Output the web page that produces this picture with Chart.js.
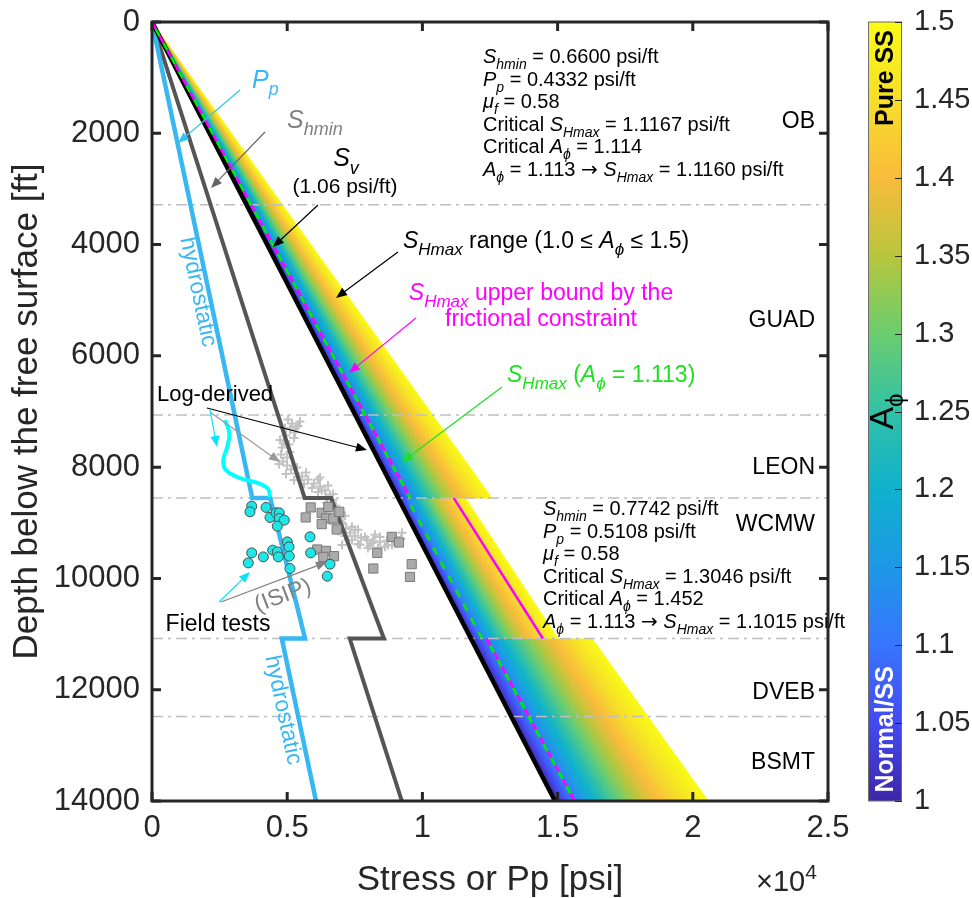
<!DOCTYPE html>
<html>
<head>
<meta charset="utf-8">
<script src="https://cdn.jsdelivr.net/npm/chart.js@4.4.1/dist/chart.umd.min.js"></script>
<style>
  html, body { margin: 0; padding: 0; background: #fff; }
  #wrap { width: 972px; height: 898px; }
</style>
</head>
<body>
<div id="wrap"><canvas id="chart" width="972" height="898"></canvas></div>
<script>
const FONT = '"Liberation Sans", Arial, "DejaVu Sans", sans-serif';
const AXIS_COLOR = '#262626';

// ---- values ----
const maxDepth = 14000;          // ft
const maxStress = 25000;         // psi
const xTickValues = [0, 5000, 10000, 15000, 20000, 25000];
const xTickLabels = ['0', '0.5', '1', '1.5', '2', '2.5'];
const yTickValues = [0, 2000, 4000, 6000, 8000, 10000, 12000, 14000];
const yTickLabels = ['0', '2000', '4000', '6000', '8000', '10000', '12000', '14000'];
const cbTickValues = [1, 1.05, 1.1, 1.15, 1.2, 1.25, 1.3, 1.35, 1.4, 1.45, 1.5];
const cbTickLabels = ['1', '1.05', '1.1', '1.15', '1.2', '1.25', '1.3', '1.35', '1.4', '1.45', '1.5'];

// three stress sections (ft) and gradients (psi/ft)
const sectionTop = [0, 8556, 11080];
const sectionBottom = [8556, 11080, 14000];
const shminGrad = [0.66, 0.7742, 0.66];
const ppGrad = [0.4332, 0.5108, 0.4332];
const svGrad = 1.0645;
const critShmaxGrad = [1.1167, 1.3046, 1.1167];
const shmaxFitGrad = [1.1160, 1.1015, 1.1160];   // A_phi = 1.113
const aphiMin = 1.0, aphiMax = 1.5;

// formation tops (dashed) and names
const formationBreaks = [3284, 7065, 8556, 11080, 12480];
const formationNames = ['OB', 'GUAD', 'LEON', 'WCMW', 'DVEB', 'BSMT'];
const formationLabelDepth = [1905, 5481, 8123, 9148, 12167, 13425];

// log-derived pore pressure (cyan curve)
const logPpStress = [2700, 2859, 2785, 2637, 2737, 3254, 3931, 4301, 4364];
const logPpDepth = [7153, 7387, 7633, 7873, 8053, 8197, 8287, 8395, 8540];

// log-derived Shmin (grey +)
const logShStress = [5029, 5177, 5325, 5473, 5103, 4955, 4881, 4807, 4770, 4844, 4992, 5140, 5325, 5547, 5769, 5991, 6213, 6398, 6583, 6694, 6804, 6878, 6952, 7063, 7174, 7322, 7507, 7729, 7951, 8172, 8431, 8690, 8949, 9208, 9245, 5288, 5066, 4992, 5362, 5695, 6139, 6509, 6657, 7137, 7396, 7692, 8062, 7618, 8247, 8616, 8875, 7248, 6952, 6767, 6213,
  5399, 4918, 5251, 4733, 5103, 4697, 4955, 5251, 5621, 5917, 6139, 6435, 6287, 6694, 6472, 6583, 6804, 6694, 6989, 6878, 7137, 7396, 7618, 7877, 8136, 8431, 8727, 9023, 7026, 7988, 8357, 7507];
const logShDepth = [7144, 7216, 7288, 7180, 7324, 7432, 7540, 7648, 7774, 7900, 7972, 8044, 8116, 8170, 8224, 8296, 8350, 8422, 8494, 8584, 8692, 8800, 8908, 9016, 9106, 9177, 9231, 9267, 9303, 9321, 9339, 9321, 9303, 9285, 9177, 7378, 7594, 7828, 8008, 8098, 8224, 8332, 8656, 8872, 9070, 9393, 9411, 9123, 9213, 9429, 9393, 9303, 9123, 8980, 8188,
  7260, 7296, 7476, 7512, 7727, 7943, 8122, 8230, 8302, 8374, 8446, 8536, 8410, 8482, 8644, 8805, 8895, 9021, 8985, 9147, 9237, 9309, 9380, 9255, 9363, 9255, 9398, 9255, 9398, 9452, 9452, 9129];

// field tests: ISIP (grey squares)
const isipStress = [5869, 5684, 6276, 6520, 6435, 6705, 6927, 6276, 6831, 6113, 6435, 6335, 6731, 8332, 8864, 9134, 9604, 8184, 9541];
const isipDepth = [8724, 8904, 8821, 8713, 8922, 8922, 8803, 9024, 9120, 9480, 9505, 9613, 9600, 9541, 9253, 9354, 9744, 9822, 9973];

// field tests: pore pressure (cyan circles)
const testPpStress = [3687, 3624, 4216, 4364, 4586, 4707, 4707, 4893, 4634, 5004, 5066, 5843, 3687, 3561, 4116, 4463, 4634, 4671, 5077, 5869, 6583, 6483, 5103];
const testPpDepth = [8701, 8803, 8724, 8904, 8821, 8821, 8922, 8953, 9061, 9343, 9433, 9253, 9541, 9721, 9613, 9492, 9523, 9613, 9600, 9541, 9744, 9960, 9822];

// parula colour map (11 stops, rgb)
const parula = [[62, 38, 168], [68, 74, 241], [55, 117, 254], [30, 152, 230], [15, 177, 205], [50, 193, 166], [107, 205, 111], [184, 198, 61], [249, 187, 60], [246, 222, 41], [249, 251, 21]];

function parulaColor(t) {
  const f = Math.min(Math.max(t, 0), 1) * (parula.length - 1);
  const i = Math.min(Math.floor(f), parula.length - 2), u = f - i;
  const c = parula[i].map((v, k) => Math.round(v + (parula[i + 1][k] - v) * u));
  return `rgb(${c[0]},${c[1]},${c[2]})`;
}

// SHmax gradient for a given A_phi in section s (strike-slip regime)
const shmaxAt = (a, s) => shminGrad[s] + (svGrad - shminGrad[s]) / (2 - a);

const pts = (xs, ys) => xs.map((v, i) => ({ x: v, y: ys[i] }));
const seg = (g, s) => [{ x: g * sectionTop[s], y: sectionTop[s] }, { x: g * sectionBottom[s], y: sectionBottom[s] }];
const stepLine = grads => grads.flatMap((g, s) => seg(g, s));
const labelFor = (vals, labels) => v => {
  const i = vals.findIndex(t => Math.abs(t - v) < 1e-6);
  return i < 0 ? '' : labels[i];
};

const datasets = [];

// SHmax range band, coloured by A_phi
const nBands = 50;
for (let s = 0; s < 3; s++) {
  for (let k = 0; k < nBands; k++) {
    const a0 = aphiMin + (aphiMax - aphiMin) * k / nBands;
    const a1 = aphiMin + (aphiMax - aphiMin) * (k + 1) / nBands;
    const g0 = shmaxAt(a0, s), g1 = shmaxAt(a1, s);
    const d0 = sectionTop[s], d1 = sectionBottom[s];
    const col = parulaColor((k + 0.5) / nBands);
    datasets.push({
      data: [{ x: g0 * d0, y: d0 }, { x: g0 * d1, y: d1 }, { x: g1 * d1, y: d1 }, { x: g1 * d0, y: d0 }],
      showLine: true, fill: 'shape', backgroundColor: col, borderColor: col, borderWidth: 1,
      pointRadius: 0, order: 50
    });
  }
}

formationBreaks.forEach(d => {
  datasets.push({
    data: [{ x: 0, y: d }, { x: maxStress, y: d }],
    showLine: true, borderColor: '#BEBEBE', borderWidth: 1.5, borderDash: [11, 5, 3, 5],
    pointRadius: 0, order: 40
  });
});

datasets.push({
  data: pts(logShStress, logShDepth), pointStyle: 'cross', pointRadius: 4.5,
  borderColor: '#C3C3C3', borderWidth: 2, backgroundColor: '#C3C3C3', order: 35
});

datasets.push({ data: stepLine(ppGrad), showLine: true, borderColor: '#38B8F2', borderWidth: 4.5, pointRadius: 0, order: 20 });
datasets.push({ data: stepLine(shminGrad), showLine: true, borderColor: '#555555', borderWidth: 4, pointRadius: 0, order: 20 });
datasets.push({ data: [{ x: 0, y: 0 }, { x: svGrad * maxDepth, y: maxDepth }], showLine: true, borderColor: '#000', borderWidth: 4.5, pointRadius: 0, order: 19 });

[0, 1, 2].forEach(s => {
  datasets.push({
    data: seg(critShmaxGrad[s], s), showLine: true, borderColor: '#FF00FF', borderWidth: 2.5,
    borderDash: s === 1 ? [] : [8, 8], pointRadius: 0, order: 15
  });
  datasets.push({
    data: seg(shmaxFitGrad[s], s), showLine: true, borderColor: '#00EE00', borderWidth: 2.5,
    borderDash: [8, 8], borderDashOffset: 8, pointRadius: 0, order: 14
  });
});

datasets.push({ data: pts(logPpStress, logPpDepth), showLine: true, tension: 0.35, borderColor: '#00FFFF', borderWidth: 4, pointRadius: 0, order: 12 });

datasets.push({
  data: pts(isipStress, isipDepth), pointStyle: 'rect', pointRadius: 6.5,
  backgroundColor: '#ABABAB', borderColor: '#7A7A7A', borderWidth: 1, order: 10
});
datasets.push({
  data: pts(testPpStress, testPpDepth), pointStyle: 'circle', pointRadius: 5,
  backgroundColor: '#1CE6E6', borderColor: '#4D4D4D', borderWidth: 1, order: 5
});

// ---- annotation text (positions in data units) ----
const notes = [
  { runs: [['P', 'i'], ['p', 'is']], x: 3698, d: 1186, size: 25, color: '#38B8F2' },
  { runs: [['S', 'i'], ['hmin', 'is']], x: 4993, d: 1905, size: 25, color: '#808080' },
  { runs: [['S', 'i'], ['v', 'is']], x: 7175, d: 2588, size: 25, color: '#000', align: 'center' },
  { runs: [['(1.06 psi/ft)']], x: 7138, d: 3073, size: 21, color: '#000', align: 'center' },
  { runs: [['S', 'i'], ['Hmax', 'is'], [' range (1.0 ≤ '], ['A', 'i'], ['ϕ', 'is'], [' ≤ 1.5)']], x: 9282, d: 4062, size: 23, color: '#000' },
  { runs: [['S', 'i'], ['Hmax', 'is'], [' upper bound by the']], x: 14386, d: 4996, size: 23, color: '#FF00FF', align: 'center' },
  { runs: [['frictional constraint']], x: 14386, d: 5464, size: 23, color: '#FF00FF', align: 'center' },
  { runs: [['S', 'i'], ['Hmax', 'is'], [' ('], ['A', 'i'], ['ϕ', 'is'], [' = 1.113)']], x: 13129, d: 6470, size: 23, color: '#1EE01E' },
  { runs: [['Log-derived']], x: 2330, d: 6811, size: 22, color: '#000', align: 'center' },
  { runs: [['Field tests']], x: 2441, d: 10945, size: 23, color: '#000', align: 'center' }
];

const arrows = [
  { from: [3254, 1222], to: [962, 2175], color: '#33C4F0' },
  { from: [4179, 1977], to: [2182, 2983], color: '#666666' },
  { from: [6139, 3289], to: [4475, 4044], color: '#000' },
  { from: [9096, 4134], to: [6805, 4960], color: '#000' },
  { from: [9760, 5320], to: [7284, 6308], color: '#FF00FF' },
  { from: [12944, 6560], to: [9246, 7908], color: '#1EE01E' },
  { from: [2034, 6937], to: [7951, 7692], color: '#000' },
  { from: [2145, 7009], to: [4734, 7908], color: '#999999' },
  { from: [2145, 6973], to: [2404, 7638], color: '#00E5FF' },
  { from: [2478, 10424], to: [3624, 9884], color: '#00E5FF' },
  { from: [2552, 10424], to: [6472, 9705], color: '#808080' }
];

const infoTop = [
  [['S', 'i'], ['hmin', 'is'], [' = 0.6600 psi/ft']],
  [['P', 'i'], ['p', 'is'], [' = 0.4332 psi/ft']],
  [['μ', 'i'], ['f', 'is'], [' = 0.58']],
  [['Critical '], ['S', 'i'], ['Hmax', 'is'], [' = 1.1167 psi/ft']],
  [['Critical '], ['A', 'i'], ['ϕ', 'is'], [' = 1.114']],
  [['A', 'i'], ['ϕ', 'is'], [' = 1.113 '], ['→', 'd'], [' '], ['S', 'i'], ['Hmax', 'is'], [' = 1.1160 psi/ft']]
];
const infoMid = [
  [['S', 'i'], ['hmin', 'is'], [' = 0.7742 psi/ft']],
  [['P', 'i'], ['p', 'is'], [' = 0.5108 psi/ft']],
  [['μ', 'i'], ['f', 'is'], [' = 0.58']],
  [['Critical '], ['S', 'i'], ['Hmax', 'is'], [' = 1.3046 psi/ft']],
  [['Critical '], ['A', 'i'], ['ϕ', 'is'], [' = 1.452']],
  [['A', 'i'], ['ϕ', 'is'], [' = 1.113 '], ['→', 'd'], [' '], ['S', 'i'], ['Hmax', 'is'], [' = 1.1015 psi/ft']]
];

function richText(ctx, runs, x, y, size, color, align = 'left') {
  const parts = runs.map(([t, st = '']) => {
    const small = st.includes('s') || st.includes('u');
    const fs = small ? Math.round(size * 0.72) : size;
    const fam = st.includes('d') ? '"DejaVu Sans", sans-serif' : FONT;
    const font = (st.includes('i') ? 'italic ' : '') + (st.includes('b') ? 'bold ' : '') + fs + 'px ' + fam;
    ctx.font = font;
    const dy = st.includes('s') ? size * 0.3 : st.includes('u') ? -size * 0.42 : 0;
    return { t, font, dy, w: ctx.measureText(t).width };
  });
  const total = parts.reduce((s, p) => s + p.w, 0);
  let cx = align === 'center' ? x - total / 2 : align === 'right' ? x - total : x;
  ctx.fillStyle = color;
  ctx.textAlign = 'left';
  ctx.textBaseline = 'alphabetic';
  parts.forEach(p => { ctx.font = p.font; ctx.fillText(p.t, cx, y + p.dy); cx += p.w; });
}

function drawArrow(ctx, x0, y0, x1, y1, color) {
  const ang = Math.atan2(y1 - y0, x1 - x0), L = 11, W = 4.5;
  const c = Math.cos(ang), s = Math.sin(ang);
  ctx.strokeStyle = color; ctx.fillStyle = color; ctx.lineWidth = 1.2; ctx.setLineDash([]);
  ctx.beginPath(); ctx.moveTo(x0, y0); ctx.lineTo(x1 - L * c * 0.8, y1 - L * s * 0.8); ctx.stroke();
  ctx.beginPath();
  ctx.moveTo(x1, y1);
  ctx.lineTo(x1 - L * c + W * s, y1 - L * s - W * c);
  ctx.lineTo(x1 - L * c - W * s, y1 - L * s + W * c);
  ctx.closePath(); ctx.fill();
}

const decor = {
  id: 'decor',
  afterDraw(chart) {
    const { ctx, chartArea: a, scales: { x, y, cb } } = chart;
    const X = v => x.getPixelForValue(v), Y = v => y.getPixelForValue(v);
    ctx.save();

    // formation names
    formationNames.forEach((n, i) => richText(ctx, [[n]], X(24519), Y(formationLabelDepth[i]), 23, '#000', 'right'));

    // info blocks
    infoTop.forEach((r, i) => richText(ctx, r, X(12241), Y(737) + i * 22.5, 20, '#000'));
    infoMid.forEach((r, i) => richText(ctx, r, X(14460), Y(8869) + i * 22.5, 20, '#000'));

    notes.forEach(n => richText(ctx, n.runs, X(n.x), Y(n.d), n.size, n.color, n.align || 'left'));
    arrows.forEach(r => drawArrow(ctx, X(r.from[0]), Y(r.from[1]), X(r.to[0]), Y(r.to[1]), r.color));

    // "hydrostatic" along the Pp line
    const ppAng = Math.atan2(Y(maxDepth) - Y(0), X(ppGrad[0] * maxDepth) - X(0));
    [[1701, 4852], [4845, 12365]].forEach(([sx, sd]) => {
      ctx.save();
      ctx.translate(X(sx), Y(sd));
      ctx.rotate(ppAng);
      ctx.font = '23px ' + FONT; ctx.fillStyle = '#38B8F2';
      ctx.textAlign = 'center'; ctx.textBaseline = 'middle';
      ctx.fillText('hydrostatic', 0, 0);
      ctx.restore();
    });

    // (ISIP) along the grey arrow
    const isipArrow = arrows[10];
    const isAng = Math.atan2(Y(isipArrow.to[1]) - Y(isipArrow.from[1]), X(isipArrow.to[0]) - X(isipArrow.from[0]));
    ctx.save();
    ctx.translate(X(4845), Y(10316));
    ctx.rotate(isAng);
    ctx.font = '23px ' + FONT; ctx.fillStyle = '#808080';
    ctx.textAlign = 'center'; ctx.textBaseline = 'middle';
    ctx.fillText('(ISIP)', 0, 0);
    ctx.restore();

    // axes box with inward ticks
    ctx.strokeStyle = AXIS_COLOR; ctx.lineWidth = 3; ctx.setLineDash([]);
    ctx.strokeRect(a.left, a.top, a.right - a.left, a.bottom - a.top);
    ctx.beginPath();
    x.ticks.forEach(t => {
      const p = X(t.value);
      ctx.moveTo(p, a.bottom); ctx.lineTo(p, a.bottom - 9);
      ctx.moveTo(p, a.top); ctx.lineTo(p, a.top + 9);
    });
    y.ticks.forEach(t => {
      const p = Y(t.value);
      ctx.moveTo(a.left, p); ctx.lineTo(a.left + 9, p);
      ctx.moveTo(a.right, p); ctx.lineTo(a.right - 9, p);
    });
    ctx.stroke();

    // x10^4 multiplier
    richText(ctx, [['×10'], ['4', 'u']], 756, 891, 29, AXIS_COLOR);

    // colour bar
    const bl = cb.left + 40, br = cb.left + 74;
    const bt = cb.getPixelForValue(aphiMax), bb = cb.getPixelForValue(aphiMin);
    const grad = ctx.createLinearGradient(0, bb, 0, bt);
    parula.forEach((c, i) => grad.addColorStop(i / (parula.length - 1), `rgb(${c[0]},${c[1]},${c[2]})`));
    ctx.fillStyle = grad;
    ctx.fillRect(bl, bt, br - bl, bb - bt);
    ctx.strokeStyle = '#6E6E6E'; ctx.lineWidth = 1;
    ctx.strokeRect(bl + 0.5, bt, br - bl - 1, bb - bt);
    ctx.strokeStyle = AXIS_COLOR;
    ctx.beginPath();
    cb.ticks.forEach(t => {
      const p = Math.round(cb.getPixelForValue(t.value)) + 0.5;
      ctx.moveTo(br - 7, p); ctx.lineTo(br, p);
    });
    ctx.stroke();

    const cx = (bl + br) / 2;
    [['Pure SS', 1.464, '#000'], ['Normal/SS', 1.046, '#fff']].forEach(([t, v, col]) => {
      ctx.save();
      ctx.translate(cx + 1, cb.getPixelForValue(v));
      ctx.rotate(-Math.PI / 2);
      ctx.font = 'bold 25px ' + FONT; ctx.fillStyle = col;
      ctx.textAlign = 'center'; ctx.textBaseline = 'middle';
      ctx.fillText(t, 0, 0);
      ctx.restore();
    });
    ctx.save();
    ctx.translate(cb.left + 65, cb.getPixelForValue(1.25));
    ctx.rotate(-Math.PI / 2);
    richText(ctx, [['A'], ['ϕ', 's']], 0, 0, 34, '#000', 'center');
    ctx.restore();

    ctx.restore();
  }
};

const tickFont = { family: FONT, size: 31 };
// fixed axis boxes; drop the label overhang padding Chart.js adds
const fixBox = (w, h) => s => {
  if (w) s.width = w;
  if (h) s.height = h;
  s.paddingTop = 0; s.paddingBottom = 0; s.paddingLeft = 0; s.paddingRight = 0;
};

new Chart(document.getElementById('chart'), {
  type: 'scatter',
  data: { datasets },
  options: {
    responsive: false,
    devicePixelRatio: 1,
    animation: false,
    events: [],
    layout: { padding: { top: 22, left: 0, right: 0, bottom: 0 } },
    plugins: { legend: { display: false }, tooltip: { enabled: false } },
    scales: {
      x: {
        type: 'linear', position: 'bottom', min: 0, max: maxStress,
        afterBuildTicks: s => { s.ticks = xTickValues.map(v => ({ value: v })); },
        afterFit: fixBox(0, 97),
        ticks: { callback: labelFor(xTickValues, xTickLabels), font: tickFont, color: AXIS_COLOR, padding: 9, maxRotation: 0, autoSkip: false },
        grid: { display: false, drawTicks: false }, border: { display: false },
        title: { display: true, text: 'Stress or Pp [psi]', font: { family: FONT, size: 35, lineHeight: 1 }, color: AXIS_COLOR, padding: { top: 0, bottom: 0 } }
      },
      y: {
        type: 'linear', position: 'left', reverse: true, min: 0, max: maxDepth,
        afterBuildTicks: s => { s.ticks = yTickValues.map(v => ({ value: v })); },
        afterFit: fixBox(152, 0),
        ticks: { callback: labelFor(yTickValues, yTickLabels), font: tickFont, color: AXIS_COLOR, padding: 12, autoSkip: false },
        grid: { display: false, drawTicks: false }, border: { display: false },
        title: { display: true, text: 'Depth below the free surface [ft]', font: { family: FONT, size: 35, lineHeight: 1 }, color: AXIS_COLOR, padding: { top: 10, bottom: 0 } }
      },
      cb: {
        type: 'linear', position: 'right', min: aphiMin, max: aphiMax,
        afterBuildTicks: s => { s.ticks = cbTickValues.map(v => ({ value: v })); },
        afterFit: fixBox(144, 0),
        ticks: { callback: labelFor(cbTickValues, cbTickLabels), font: { family: FONT, size: 29 }, color: AXIS_COLOR, padding: 86, autoSkip: false },
        grid: { display: false, drawTicks: false }, border: { display: false }
      }
    }
  },
  plugins: [decor]
});
</script>
</body>
</html>
